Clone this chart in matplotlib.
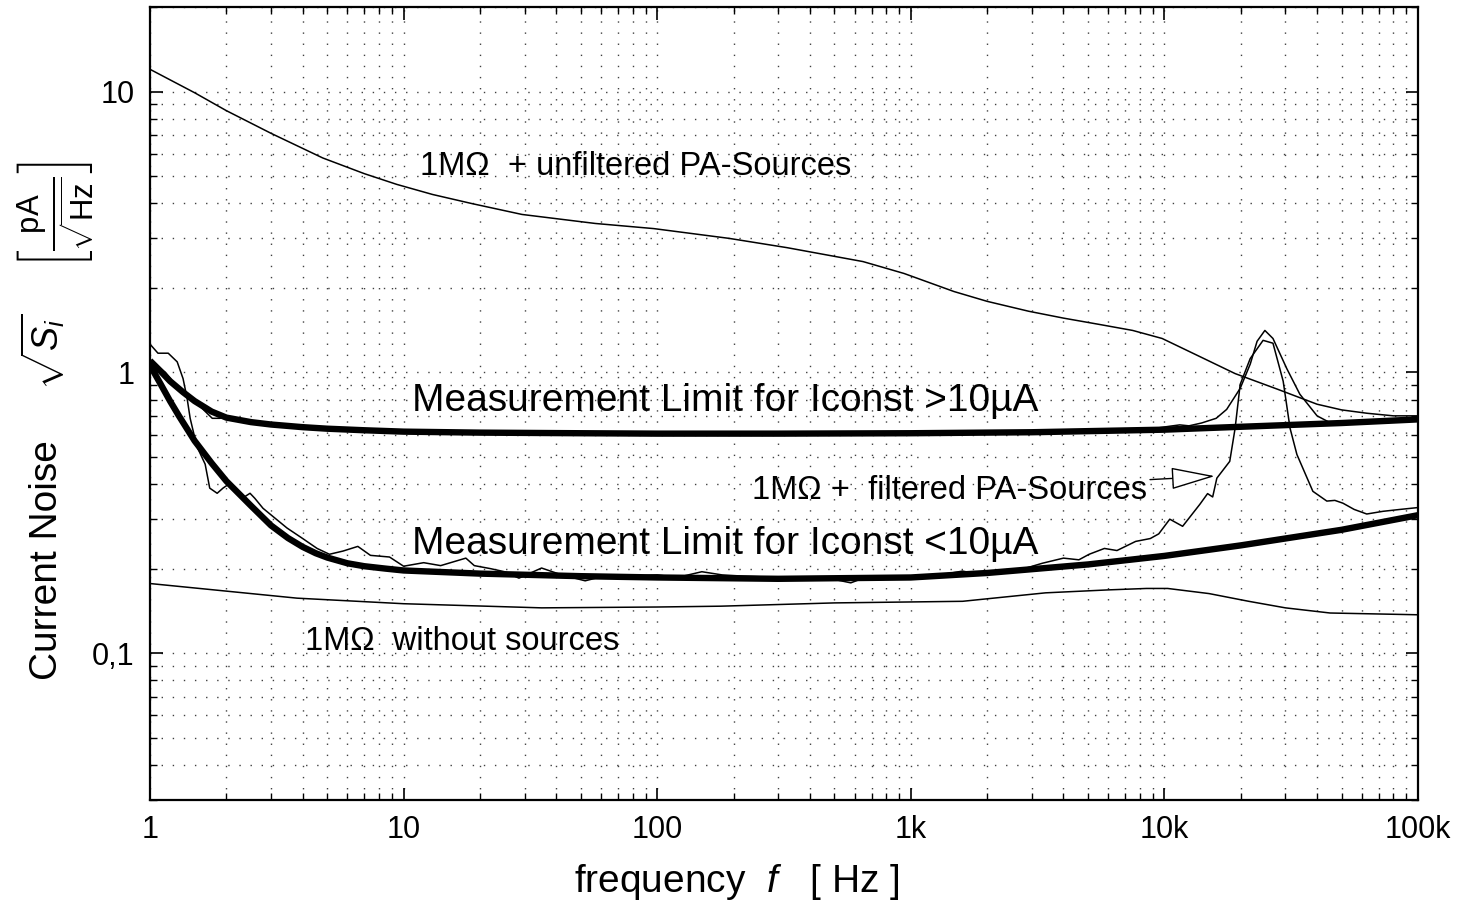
import matplotlib
matplotlib.use("Agg")
import matplotlib.pyplot as plt
from matplotlib.ticker import FixedLocator, NullFormatter, LogLocator

plt.rcParams['font.family'] = ['Liberation Sans', 'DejaVu Sans']
plt.rcParams['mathtext.fontset'] = 'custom'
plt.rcParams['mathtext.rm'] = 'Liberation Sans'
plt.rcParams['mathtext.it'] = 'Liberation Sans:italic'
plt.rcParams['mathtext.bf'] = 'Liberation Sans:bold'

# 1MOhm + unfiltered PA sources
freq_unfilt = [1, 1.5, 2, 3, 4.8, 7, 9.4, 13, 18.6, 29.3, 57, 97, 192, 325, 648,
               940, 1480, 2000, 2920, 4000, 5570, 7500, 9800, 13200, 19000, 28000,
               40000, 50000, 63000, 80000, 100000]
noise_unfilt = [12.0, 9.9, 8.55, 7.1, 5.8, 5.1, 4.67, 4.3, 3.99, 3.65, 3.39, 3.25,
                3.0, 2.78, 2.48, 2.25, 1.94, 1.79, 1.65, 1.56, 1.48, 1.41, 1.32,
                1.16, 0.99, 0.87, 0.77, 0.735, 0.715, 0.70, 0.70]

# 1MOhm without sources
freq_nosrc = [1, 3.8, 10, 35, 100, 178, 500, 1600, 3400, 6000, 8500, 10300, 15000,
              21500, 30000, 45000, 100000]
noise_nosrc = [0.177, 0.157, 0.150, 0.145, 0.146, 0.147, 0.151, 0.153, 0.164, 0.168,
               0.170, 0.170, 0.163, 0.153, 0.145, 0.139, 0.137]

# measurement limit, Iconst > 10uA
freq_lim_hi = [1, 1.1, 1.2, 1.35, 1.5, 1.75, 2, 2.5, 3, 4, 5, 7, 10, 20, 50, 100,
               300, 1000, 3000, 10000, 20000, 50000, 100000]
lim_hi = [1.10, 1.01, 0.93, 0.85, 0.79, 0.725, 0.69, 0.665, 0.652, 0.638, 0.63,
          0.622, 0.615, 0.61, 0.607, 0.605, 0.605, 0.607, 0.612, 0.625, 0.64, 0.66,
          0.68]

# measurement limit, Iconst < 10uA
freq_lim_lo = [1, 1.1, 1.2, 1.3, 1.5, 1.75, 2, 2.5, 3, 3.5, 4, 4.5, 5, 6, 7, 8.5,
               10, 20, 50, 100, 300, 1000, 2000, 5000, 10000, 20000, 50000, 100000]
lim_lo = [1.06, 0.91, 0.79, 0.70, 0.57, 0.475, 0.41, 0.335, 0.285, 0.257, 0.239,
          0.227, 0.219, 0.209, 0.204, 0.2, 0.197, 0.192, 0.188, 0.186, 0.184, 0.186,
          0.193, 0.207, 0.222, 0.242, 0.275, 0.31]

# measured, close to upper limit
freq_meas_hi = [1, 1.15, 1.3, 1.5, 1.65, 1.76, 1.89, 1.97, 2.4, 3.2, 4, 6, 10, 30,
                100, 300, 1000, 3000, 5300, 7000, 9000, 10500, 11500, 12500, 14000,
                16000, 17600, 19900, 21800, 23200, 24900, 26800, 30400, 34200,
                40000, 46000, 60000, 100000]
meas_hi = [1.10, 1.0, 0.87, 0.79, 0.726, 0.686, 0.686, 0.70, 0.675, 0.65, 0.64,
           0.625, 0.615, 0.61, 0.607, 0.607, 0.61, 0.613, 0.617, 0.625, 0.63, 0.643,
           0.65, 0.645, 0.66, 0.686, 0.738, 0.877, 1.07, 1.29, 1.41, 1.32, 1.03,
           0.836, 0.70, 0.655, 0.66, 0.68]

# 1MOhm + filtered PA sources
freq_meas_lo = [1, 1.075, 1.18, 1.28, 1.35, 1.40, 1.44, 1.53, 1.65, 1.72, 1.84, 1.94,
                2.07, 2.16, 2.31, 2.48, 2.59, 2.79, 3.47, 4.0, 4.56, 5.1, 5.77, 6.6,
                7.4, 8.8, 10, 12, 14, 17.6, 19, 22, 25, 28.5, 35, 42, 52, 60, 80,
                100, 120, 150, 180, 220, 300, 400, 500, 580, 650, 800, 1000, 1300,
                1600, 1900, 2300, 2800, 3300, 4000, 4600, 5050, 5800, 6500, 7700,
                8800, 9500, 10500, 11800, 13800, 14800, 15500, 16100, 18100, 19000,
                19900, 21800, 24500, 26800, 29400, 31300, 33300, 38500, 43700,
                47000, 50600, 56000, 62800, 72800, 85000, 100000]
meas_lo = [1.26, 1.17, 1.17, 1.09, 0.95, 0.81, 0.686, 0.545, 0.471, 0.387, 0.371,
           0.387, 0.403, 0.387, 0.356, 0.371, 0.356, 0.328, 0.279, 0.256, 0.236,
           0.225, 0.231, 0.240, 0.223, 0.22, 0.204, 0.21, 0.205, 0.218, 0.205, 0.2,
           0.195, 0.185, 0.201, 0.19, 0.181, 0.187, 0.188, 0.19, 0.186, 0.195, 0.19,
           0.188, 0.186, 0.184, 0.183, 0.178, 0.185, 0.187, 0.188, 0.19, 0.196, 0.19,
           0.193, 0.2, 0.209, 0.218, 0.215, 0.225, 0.236, 0.232, 0.25, 0.256, 0.266,
           0.30, 0.283, 0.339, 0.37, 0.36, 0.42, 0.482, 0.632, 0.906, 1.12, 1.30,
           1.27, 0.93, 0.632, 0.51, 0.377, 0.348, 0.35, 0.342, 0.325, 0.313, 0.32,
           0.325, 0.33]

xticks = [1, 10, 100, 1000, 10000, 100000]
xtick_labels = ["1", "10", "100", "1k", "10k", "100k"]
yticks = [0.1, 1, 10]
ytick_labels = ["0,1", "1", "10"]

W, H = 1477, 905
fig = plt.figure(figsize=(W / 100, H / 100), dpi=100)
ax = fig.add_axes([150 / W, 1 - 800 / H, (1418 - 150) / W, (800 - 7) / H])

ax.set_xscale('log')
ax.set_yscale('log')
ax.set_xlim(1, 100000)
ax.set_ylim(0.03, 20)

ax.plot(freq_unfilt, noise_unfilt, color='black', lw=1.1)
ax.plot(freq_nosrc, noise_nosrc, color='black', lw=1.1)
ax.plot(freq_meas_hi, meas_hi, color='black', lw=1.1)
ax.plot(freq_meas_lo, meas_lo, color='black', lw=1.1)
ax.plot(freq_lim_hi, lim_hi, color='black', lw=4.6, solid_capstyle='butt',
        solid_joinstyle='round')
ax.plot(freq_lim_lo, lim_lo, color='black', lw=4.6, solid_capstyle='butt',
        solid_joinstyle='round')

ax.xaxis.set_major_locator(FixedLocator(xticks))
ax.set_xticklabels(xtick_labels)
ax.xaxis.set_minor_locator(LogLocator(base=10, subs=range(2, 10), numticks=20))
ax.xaxis.set_minor_formatter(NullFormatter())
ax.yaxis.set_major_locator(FixedLocator(yticks))
ax.set_yticklabels(ytick_labels)
ax.yaxis.set_minor_locator(LogLocator(base=10, subs=range(2, 10), numticks=20))
ax.yaxis.set_minor_formatter(NullFormatter())

ax.tick_params(which='both', direction='in', top=True, right=True, color='black')
ax.tick_params(which='major', length=9, width=1.2, labelsize=22, pad=11)
ax.tick_params(which='minor', length=5, width=1.0)
ax.grid(True, which='both', color='0.25', lw=1.0, ls=(0, (1, 7)))
for s in ax.spines.values():
    s.set_linewidth(1.6)

fs = 23.5
ax.text(11.6, 5.41, "1M\u03a9  + unfiltered PA-Sources", fontsize=fs, va='center')
ax.text(10.8, 0.79, "Measurement Limit for Iconst >10\u00b5A", fontsize=28, va='center')
ax.text(10.8, 0.244, "Measurement Limit for Iconst <10\u00b5A", fontsize=28, va='center')
ax.text(4.08, 0.110, "1M\u03a9  without sources", fontsize=fs, va='center')
ax.annotate("1M\u03a9 +  filtered PA-Sources", xy=(15800, 0.427), xytext=(237, 0.38),
            fontsize=fs, va='center',
            arrowprops=dict(arrowstyle='-|>,head_length=1.2,head_width=0.3',
                            fc='white', ec='black', lw=1.0, shrinkA=0, shrinkB=0))

fig.text(737 / W, 1 - 882 / H, "frequency  $f$   [ Hz ]", fontsize=28,
         ha='center', va='center')
fig.text(47 / W, 1 - 560 / H, "Current Noise", fontsize=28, rotation=90,
         ha='center', va='center')
fig.text(43 / W, 1 - 352 / H, r"$\sqrt{S_i}$", fontsize=26, rotation=90,
         ha='center', va='center')
fig.text(56 / W, 1 - 215 / H, r"$\left[\frac{\mathrm{pA}}{\sqrt{\mathrm{Hz}}}\right]$",
         fontsize=32, rotation=90, ha='center', va='center')

fig.savefig("out.png", dpi=100)
